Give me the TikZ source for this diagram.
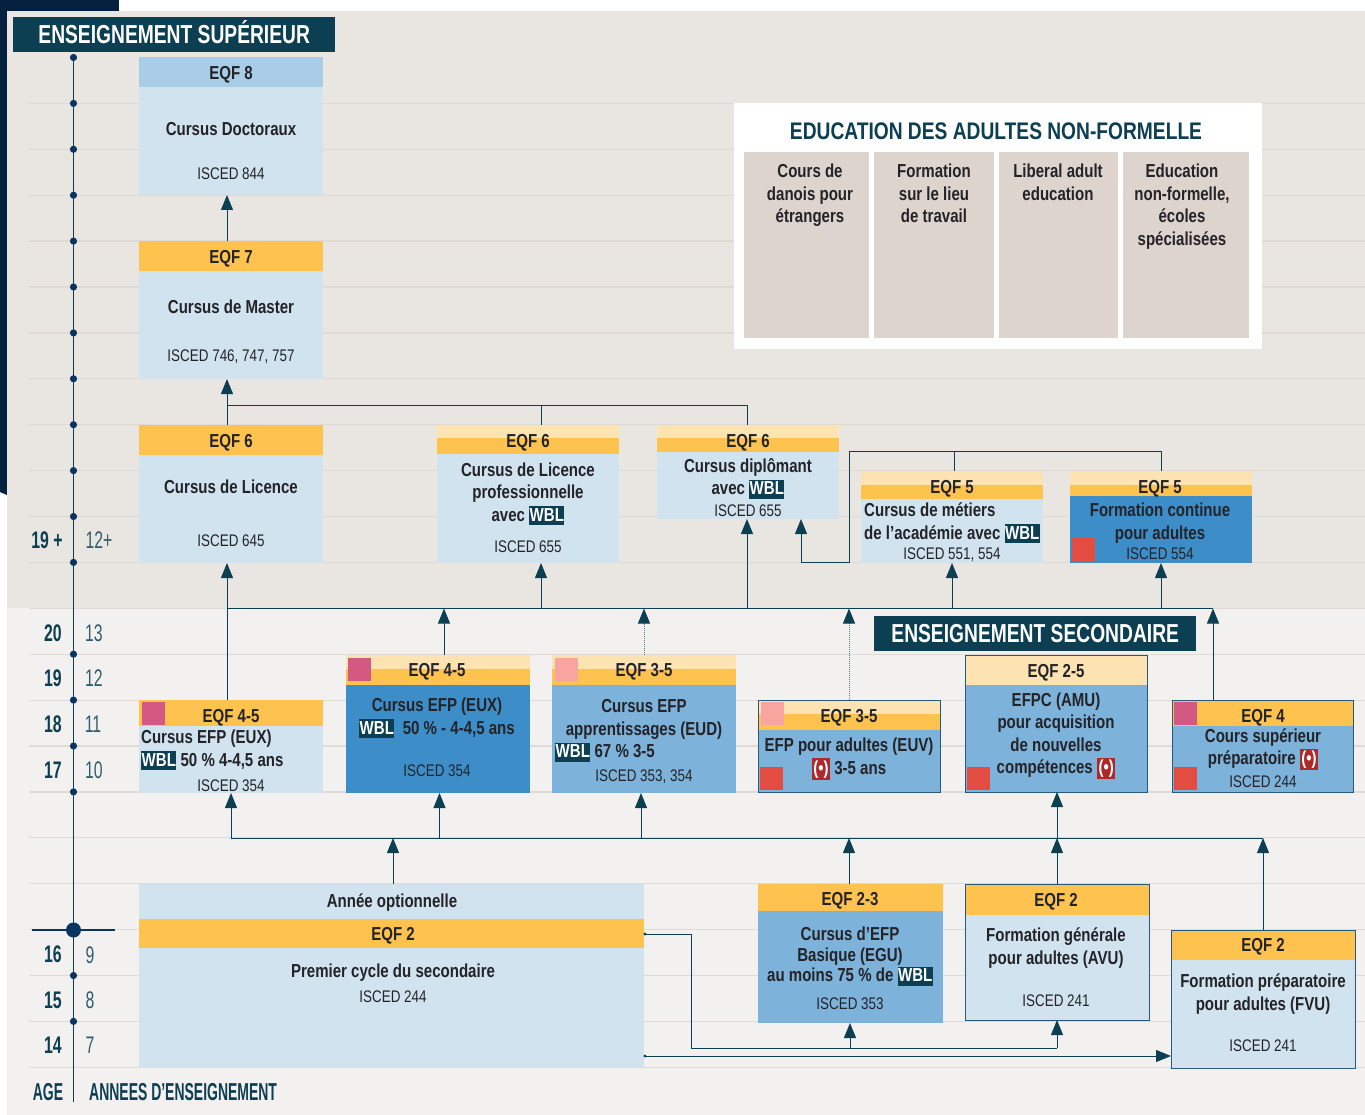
\documentclass[tikz,border=0pt]{standalone}
\usepackage{fontspec}
\usetikzlibrary{arrows.meta}

\setmainfont{Liberation Sans}[FakeStretch=0.80]
\newfontfamily\bannerfont{Liberation Sans}[FakeStretch=0.74]
\newfontfamily\agefont{Liberation Sans}[FakeStretch=0.66]
\newfontfamily\captionfont{Liberation Sans}[FakeStretch=0.57]

\definecolor{navycorner}{HTML}{04203F}
\definecolor{axisblue}{HTML}{0A3560}
\definecolor{tealdark}{HTML}{0D3F52}
\definecolor{upperbg}{HTML}{E9E5E1}
\definecolor{lowerbg}{HTML}{F2F1EF}
\definecolor{gridtone}{HTML}{DFDAD4}
\definecolor{palebox}{HTML}{D0E3EF}
\definecolor{midbox}{HTML}{7DB2DA}
\definecolor{deepbox}{HTML}{3D8DC9}
\definecolor{skyhead}{HTML}{A9CDE6}
\definecolor{eqfgold}{HTML}{FEC34F}
\definecolor{eqfcream}{HTML}{FDE2B2}
\definecolor{tagpink}{HTML}{D35882}
\definecolor{tagsalmon}{HTML}{F8A5A0}
\definecolor{tagred}{HTML}{E34C40}
\definecolor{iconred}{HTML}{AE2A2A}
\definecolor{sandbox}{HTML}{DDD4CE}
\definecolor{frameblue}{HTML}{2A5878}
\definecolor{inktone}{HTML}{242428}

\newcommand{\wbl}{{\setlength{\fboxsep}{0.5pt}\colorbox{tealdark}{\rule[-3.5pt]{0pt}{18pt}\textcolor{white}{WBL}}}}
\newcommand{\alarm}{{\setlength{\fboxsep}{1.5pt}\colorbox{iconred}{\rule[-3.5pt]{0pt}{18pt}\textcolor{white}{(\textbullet)}}}}

\tikzset{
    block/.style 2 args={minimum width=#1,minimum height=#2,anchor=north west,inner sep=0pt,outer sep=0pt,draw=none},
    frame/.style 2 args={block={#1}{#2},draw=frameblue,line width=1pt},
    tag/.style={block={23}{23}},
    level/.style={font=\bfseries\fontsize{18.8}{22.5}\selectfont,text=inktone,inner sep=0pt,yshift=-1.5pt},
    course/.style={font=\bfseries\fontsize{18.8}{22.5}\selectfont,text=inktone,inner sep=0pt,align=center},
    isced/.style={font=\fontsize{16.8}{20}\selectfont,text=inktone,inner sep=0pt,yshift=-0.7pt},
    banner/.style={fill=tealdark,text=white,font=\bannerfont\bfseries\fontsize{26}{30}\selectfont,anchor=north west,inner sep=0pt,minimum width=322,minimum height=35,text height=18.5pt,text depth=0pt},
    agenum/.style={font=\agefont\bfseries\fontsize{24}{28}\selectfont,text=tealdark,inner sep=0pt},
    yearnum/.style={font=\agefont\fontsize{24}{28}\selectfont,text=tealdark!85,inner sep=0pt},
    agetitle/.style={font=\captionfont\bfseries\fontsize{24.5}{28}\selectfont,text=tealdark,inner sep=0pt},
    flow/.style={draw=tealdark,line width=1pt,-{Triangle[width=12pt,length=15pt]}},
    link/.style={draw=tealdark,line width=1pt},
    dotlink/.style={draw=tealdark!70,line width=1pt,densely dotted},
}

\begin{document}
\begin{tikzpicture}[x=1pt,y=-1pt]
    \useasboundingbox (0,0) rectangle (1365,1115);

    % backgrounds
    \fill[navycorner] (0,0) rectangle (119,11);
    \fill[navycorner] (0,0) -- (7,0) -- (7,495) -- (0,492) -- cycle;
    \fill[upperbg] (7,11) rectangle (1365,608);
    \fill[lowerbg] (7,608) rectangle (1365,1115);
    \foreach \k in {1,...,22}
        \draw[gridtone,line width=1.2pt] (29,57.5+45.9*\k) -- (1365,57.5+45.9*\k);

    % age axis
    \coordinate (axisTop) at (73.5,57.5);
    \coordinate (axisEnd) at (73.5,1102);
    \draw[tealdark,line width=1.2pt] (axisTop) -- (axisEnd);
    \foreach \k in {0,...,11,13,14,15,16,20,21}
        \fill[axisblue] (73.5,57.5+45.9*\k) circle (3.6);
    \draw[axisblue,line width=2.6pt] (31.5,930) -- (115,930);
    \fill[axisblue] (73.5,930) circle (7.5);

    \node[agenum]  (ageNineteenPlus) at (47,540)  {19 +};
    \node[yearnum] (yearTwelvePlus)  at (99,540)  {12+};
    \node[agenum]  (ageTwenty)       at (53,633)  {20};
    \node[yearnum] (yearThirteen)    at (94,633)  {13};
    \node[agenum]  (ageNineteen)     at (53,678)  {19};
    \node[yearnum] (yearTwelve)      at (94,678)  {12};
    \node[agenum]  (ageEighteen)     at (53,724)  {18};
    \node[yearnum] (yearEleven)      at (93,724)  {11};
    \node[agenum]  (ageSeventeen)    at (53,770)  {17};
    \node[yearnum] (yearTen)         at (94,770)  {10};
    \node[agenum]  (ageSixteen)      at (53,954)  {16};
    \node[yearnum] (yearNine)        at (90,955)  {9};
    \node[agenum]  (ageFifteen)      at (53,1000) {15};
    \node[yearnum] (yearEight)       at (90,1000) {8};
    \node[agenum]  (ageFourteen)     at (53,1045) {14};
    \node[yearnum] (yearSeven)       at (90,1045) {7};
    \node[agetitle] (ageTitle)       at (48,1092) {AGE};
    \node[agetitle,anchor=west] (yearTitle) at (89,1092) {ANNEES D’ENSEIGNEMENT};

    \node[banner] (bannerUpper)  at (13,17)   {ENSEIGNEMENT SUPÉRIEUR};
    \node[banner] (bannerSecond) at (874,616) {ENSEIGNEMENT SECONDAIRE};

    % higher education
    \node[block={184}{30},fill=skyhead]  (headDoctor) at (139,57)  {};
    \node[block={184}{108},fill=palebox] (bodyDoctor) at (139,87)  {};
    \node[level]  (levelDoctor) at (231,73)  {EQF 8};
    \node[course] (textDoctor)  at (231,129) {Cursus Doctoraux};
    \node[isced]  (iscedDoctor) at (231,173) {ISCED 844};

    \node[block={184}{30},fill=eqfgold]  (headMaster) at (139,241) {};
    \node[block={184}{108},fill=palebox] (bodyMaster) at (139,271) {};
    \node[level]  (levelMaster) at (231,257) {EQF 7};
    \node[course] (textMaster)  at (231,307) {Cursus de Master};
    \node[isced]  (iscedMaster) at (231,356) {ISCED 746, 747, 757};

    \node[block={184}{30},fill=eqfgold]  (headLicence) at (139,425) {};
    \node[block={184}{108},fill=palebox] (bodyLicence) at (139,455) {};
    \node[level]  (levelLicence) at (231,441) {EQF 6};
    \node[course] (textLicence)  at (231,487) {Cursus de Licence};
    \node[isced]  (iscedLicence) at (231,540) {ISCED 645};

    \node[block={182}{13},fill=eqfcream] (creamPro) at (437,425) {};
    \node[block={182}{16},fill=eqfgold]  (headPro)  at (437,438) {};
    \node[block={182}{109},fill=palebox] (bodyPro)  at (437,454) {};
    \node[level]  (levelPro) at (528,441) {EQF 6};
    \node[course] (textPro)  at (528,494) {Cursus de Licence\\professionnelle\\avec \wbl};
    \node[isced]  (iscedPro) at (528,546) {ISCED 655};

    \node[block={182}{13},fill=eqfcream] (creamDipl) at (657,425) {};
    \node[block={182}{14},fill=eqfgold]  (headDipl)  at (657,438) {};
    \node[block={182}{67},fill=palebox]  (bodyDipl)  at (657,452) {};
    \node[level]  (levelDipl) at (748,441) {EQF 6};
    \node[course] (textDipl)  at (748,478.5) {Cursus diplômant\\avec \wbl};
    \node[isced]  (iscedDipl) at (748,510) {ISCED 655};

    \node[block={182}{14},fill=eqfcream] (creamTrade) at (861,471) {};
    \node[block={182}{14},fill=eqfgold]  (headTrade)  at (861,485) {};
    \node[block={182}{64},fill=palebox]  (bodyTrade)  at (861,499) {};
    \node[level]  (levelTrade) at (952,487) {EQF 5};
    \node[course,align=left,anchor=north west] (textTrade) at (864,503) {Cursus de métiers\\de l'académie avec \wbl};
    \node[isced]  (iscedTrade) at (952,554) {ISCED 551, 554};

    \node[block={182}{14},fill=eqfcream] (creamCont) at (1070,471) {};
    \node[block={182}{11},fill=eqfgold]  (headCont)  at (1070,485) {};
    \node[block={182}{67},fill=deepbox]  (bodyCont)  at (1070,496) {};
    \node[tag,fill=tagred] (tagCont) at (1072,538) {};
    \node[level]  (levelCont) at (1160,487) {EQF 5};
    \node[course] (textCont)  at (1160,523) {Formation continue\\pour adultes};
    \node[isced]  (iscedCont) at (1160,553) {ISCED 554};

    % adult education box
    \node[block={528}{246},fill=white] (adultPanel) at (734,103) {};
    \node[font=\bfseries\fontsize{24}{28}\selectfont,text=tealdark,inner sep=0pt] (adultTitle) at (996,131) {EDUCATION DES ADULTES NON-FORMELLE};
    \node[block={125}{186},fill=sandbox] (colDanish) at (744,152)  {};
    \node[block={120}{186},fill=sandbox] (colWork)   at (874,152)  {};
    \node[block={119}{186},fill=sandbox] (colLiberal) at (999,152) {};
    \node[block={126}{186},fill=sandbox] (colSchools) at (1123,152) {};
    \node[course,anchor=north] (textDanish)  at (810,164)  {Cours de\\danois pour\\étrangers};
    \node[course,anchor=north] (textWork)    at (934,164)  {Formation\\sur le lieu\\de travail};
    \node[course,anchor=north] (textLiberal) at (1058,164) {Liberal adult\\education};
    \node[course,anchor=north] (textSchools) at (1182,164) {Education\\non-formelle,\\écoles\\spécialisées};

    % secondary education
    \node[block={184}{26},fill=eqfgold] (headEuxA) at (139,700) {};
    \node[block={184}{67},fill=palebox] (bodyEuxA) at (139,726) {};
    \node[tag,fill=tagpink] (tagEuxA) at (142,702) {};
    \node[level]  (levelEuxA) at (231,716) {EQF 4-5};
    \node[course,align=left,anchor=north west] (textEuxA) at (141,730) {Cursus EFP (EUX)\\\wbl{} 50 \% 4-4,5 ans};
    \node[isced]  (iscedEuxA) at (231,785) {ISCED 354};

    \node[block={184}{14},fill=eqfcream] (creamEuxB) at (346,655) {};
    \node[block={184}{16},fill=eqfgold]  (headEuxB)  at (346,669) {};
    \node[block={184}{108},fill=deepbox] (bodyEuxB)  at (346,685) {};
    \node[tag,fill=tagpink] (tagEuxB) at (348,658) {};
    \node[level]  (levelEuxB) at (437,670) {EQF 4-5};
    \node[course] (textEuxB)  at (437,718) {Cursus EFP (EUX)\\\wbl{}\ \ 50 \% - 4-4,5 ans};
    \node[isced]  (iscedEuxB) at (437,770) {ISCED 354};

    \node[block={184}{14},fill=eqfcream] (creamEud) at (552,655) {};
    \node[block={184}{16},fill=eqfgold]  (headEud)  at (552,669) {};
    \node[block={184}{108},fill=midbox]  (bodyEud)  at (552,685) {};
    \node[tag,fill=tagsalmon] (tagEud) at (555,658) {};
    \node[level]  (levelEud) at (644,670) {EQF 3-5};
    \node[course] (textEud)  at (644,719.5) {Cursus EFP\\apprentissages (EUD)};
    \node[course,anchor=west] (wblEud) at (555,752) {\wbl{} 67 \% 3-5};
    \node[isced]  (iscedEud) at (644,776) {ISCED 353, 354};

    \node[block={182}{14},fill=eqfcream] (creamEuv) at (758,700) {};
    \node[block={182}{16},fill=eqfgold]  (headEuv)  at (758,714) {};
    \node[block={182}{62},fill=midbox]   (bodyEuv)  at (758,730) {};
    \node[frame={182}{92}] (frameEuv) at (758,700) {};
    \node[tag,fill=tagsalmon] (tagEuv)  at (761,702) {};
    \node[tag,fill=tagred]    (redEuv)  at (760,767) {};
    \node[level]  (levelEuv) at (849,716) {EQF 3-5};
    \node[course] (textEuv)  at (849,759) {EFP pour adultes (EUV)\\\alarm{} 3-5 ans};

    \node[block={182}{30},fill=eqfcream] (headAmu) at (965,655) {};
    \node[block={182}{107},fill=midbox]  (bodyAmu) at (965,685) {};
    \node[frame={182}{137}] (frameAmu) at (965,655) {};
    \node[tag,fill=tagred] (redAmu) at (967,767) {};
    \node[level]  (levelAmu) at (1056,671) {EQF 2-5};
    \node[course] (textAmu)  at (1056,736) {EFPC (AMU)\\pour acquisition\\de nouvelles\\compétences \alarm};

    \node[block={181}{26},fill=eqfgold] (headPrep) at (1172,700) {};
    \node[block={181}{66},fill=midbox]  (bodyPrep) at (1172,726) {};
    \node[frame={181}{92}] (framePrep) at (1172,700) {};
    \node[tag,fill=tagpink] (tagPrep) at (1174,702) {};
    \node[tag,fill=tagred]  (redPrep) at (1174,767) {};
    \node[level]  (levelPrep) at (1263,716) {EQF 4};
    \node[course] (textPrep)  at (1263,749.5) {Cours supérieur\\préparatoire \alarm};
    \node[isced]  (iscedPrep) at (1263,781) {ISCED 244};

    % lower secondary and adult courses
    \node[block={505}{35},fill=palebox]  (topLower)  at (139,884) {};
    \node[block={505}{29},fill=eqfgold]  (headLower) at (139,919) {};
    \node[block={505}{120},fill=palebox] (bodyLower) at (139,948) {};
    \node[course] (textOption) at (392,903) {Année optionnelle};
    \node[level]  (levelLower) at (393,934) {EQF 2};
    \node[course] (textLower)  at (393,973) {Premier cycle du secondaire};
    \node[isced]  (iscedLower) at (393,996) {ISCED 244};

    \node[block={185}{27},fill=eqfgold] (headEgu) at (758,884) {};
    \node[block={185}{112},fill=midbox] (bodyEgu) at (758,911) {};
    \node[level]  (levelEgu) at (850,899.5) {EQF 2-3};
    \node[course,font=\bfseries\fontsize{18.8}{20.5}\selectfont] (textEgu) at (850,956.5) {Cursus d'EFP\\Basique (EGU)\\au moins 75 \% de \wbl};
    \node[isced]  (iscedEgu) at (850,1003) {ISCED 353};

    \node[block={184}{31},fill=eqfgold] (headAvu) at (965,884) {};
    \node[block={184}{105},fill=palebox] (bodyAvu) at (965,915) {};
    \node[frame={184}{136}] (frameAvu) at (965,884) {};
    \node[level]  (levelAvu) at (1056,900) {EQF 2};
    \node[course] (textAvu)  at (1056,948) {Formation générale\\pour adultes (AVU)};
    \node[isced]  (iscedAvu) at (1056,1000) {ISCED 241};

    \node[block={184}{30},fill=eqfgold]  (headFvu) at (1171,930) {};
    \node[block={184}{108},fill=palebox] (bodyFvu) at (1171,960) {};
    \node[frame={184}{138}] (frameFvu) at (1171,930) {};
    \node[level]  (levelFvu) at (1263,945) {EQF 2};
    \node[course] (textFvu)  at (1263,994) {Formation préparatoire\\pour adultes (FVU)};
    \node[isced]  (iscedFvu) at (1263,1045) {ISCED 241};

    % junction points of the connectors
    \coordinate (upperBusL) at (227,405);
    \coordinate (upperBusM) at (541,405);
    \coordinate (upperBusR) at (747,405);
    \coordinate (sideBusL)  at (849,451);
    \coordinate (sideBusR)  at (1161,451);
    \coordinate (sideBusM)  at (954,451);
    \coordinate (sideDown)  at (849,562);
    \coordinate (sideTurn)  at (801,562);
    \coordinate (midBusL)   at (227,608.5);
    \coordinate (midBusA)   at (444,608.5);
    \coordinate (midBusB)   at (541,608.5);
    \coordinate (midBusC)   at (644,608.5);
    \coordinate (midBusD)   at (747,608.5);
    \coordinate (midBusE)   at (849,608.5);
    \coordinate (midBusF)   at (952,608.5);
    \coordinate (midBusG)   at (1161,608.5);
    \coordinate (midBusR)   at (1213,608.5);
    \coordinate (midStubC)  at (644,624);
    \coordinate (midStubE)  at (849,624);
    \coordinate (lowBusL)   at (231,838);
    \coordinate (lowBusA)   at (393,838);
    \coordinate (lowBusB)   at (439.5,838);
    \coordinate (lowBusC)   at (641,838);
    \coordinate (lowBusD)   at (849,838);
    \coordinate (lowBusE)   at (1057,838);
    \coordinate (lowBusR)   at (1263,838);
    \coordinate (feedOut)   at (645,934);
    \coordinate (feedTurn)  at (691,934);
    \coordinate (feedDown)  at (691,1048);
    \coordinate (feedMid)   at (850,1048);
    \coordinate (feedEnd)   at (1057,1048);
    \coordinate (directOut) at (645,1056);

    % connectors in the upper part
    \draw[flow] (headMaster.north -| upperBusL) -- (bodyDoctor.south -| upperBusL);
    \draw[flow] (headLicence.north -| upperBusL) -- (bodyMaster.south -| upperBusL);
    \draw[link] (upperBusL) -- (upperBusR);
    \draw[link] (upperBusM) -- (creamPro.north -| upperBusM);
    \draw[link] (upperBusR) -- (creamDipl.north -| upperBusR);
    \draw[link] (creamTrade.north -| sideBusM) -- (sideBusM);
    \draw[link] (creamCont.north -| sideBusR) -- (sideBusR) -- (sideBusL) -- (sideDown) -- (sideTurn);
    \draw[flow] (sideTurn) -- (bodyDipl.south -| sideTurn);

    % connectors in the middle part
    \draw[link] (midBusL) -- (midBusR);
    \draw[flow] (headEuxA.north -| midBusL) -- (bodyLicence.south -| midBusL);
    \draw[flow] (creamEuxB.north -| midBusA) -- (midBusA);
    \draw[flow] (midBusB) -- (bodyPro.south -| midBusB);
    \draw[flow] (midBusD) -- (bodyDipl.south -| midBusD);
    \draw[flow] (midBusF) -- (bodyTrade.south -| midBusF);
    \draw[flow] (midBusG) -- (bodyCont.south -| midBusG);
    \draw[dotlink] (creamEud.north -| midBusC) -- (midStubC);
    \draw[flow] (midStubC) -- (midBusC);
    \draw[dotlink] (creamEuv.north -| midBusE) -- (midStubE);
    \draw[flow] (midStubE) -- (midBusE);
    \draw[flow] (headPrep.north -| midBusR) -- (midBusR);

    % connectors in the lower part
    \draw[link] (lowBusL) -- (lowBusR);
    \draw[flow] (lowBusL) -- (bodyEuxA.south -| lowBusL);
    \draw[flow] (lowBusB) -- (bodyEuxB.south -| lowBusB);
    \draw[flow] (lowBusC) -- (bodyEud.south -| lowBusC);
    \draw[flow] (lowBusE) -- (bodyAmu.south -| lowBusE);
    \draw[flow] (topLower.north -| lowBusA) -- (lowBusA);
    \draw[flow] (headEgu.north -| lowBusD) -- (lowBusD);
    \draw[flow] (headAvu.north -| lowBusE) -- (lowBusE);
    \draw[flow] (headFvu.north -| lowBusR) -- (lowBusR);
    \draw[link] (feedOut) -- (feedTurn) -- (feedDown) -- (feedEnd);
    \draw[flow] (feedMid) -- (bodyEgu.south -| feedMid);
    \draw[flow] (feedEnd) -- (bodyAvu.south -| feedEnd);
    \draw[flow] (directOut) -- (bodyFvu.west |- directOut);
    \fill[tealdark] (feedOut) circle (1.6);
    \fill[tealdark] (directOut) circle (1.6);
\end{tikzpicture}
\end{document}
